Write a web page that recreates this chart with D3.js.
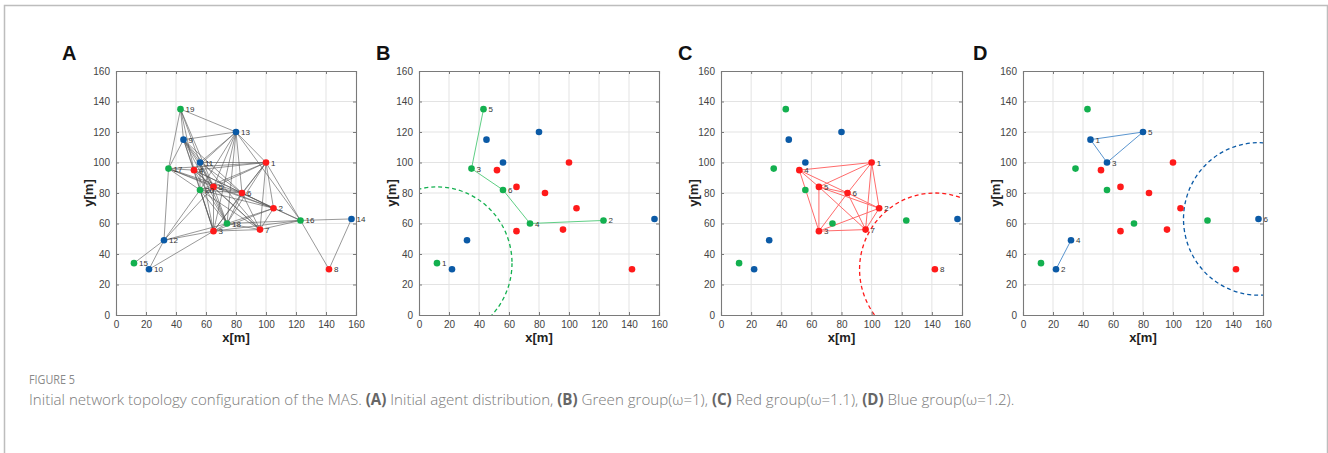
<!DOCTYPE html>
<html><head><meta charset="utf-8">
<script src="https://cdn.jsdelivr.net/npm/d3@7"></script>
<style>
body{margin:0;background:#fff;}
svg{display:block;}
</style></head>
<body>
<svg id="chart" width="1328" height="453"></svg>
<script>
// ---- data ----
const agentX = [100,105,65,52,65,84,96,142, 45,22,56,32,80,157, 12,123,35,74,43,56];
const agentY = [100,70,55,95,84,80,56,30, 115,30,100,49,120,63, 34,62,96,60,135,82];
const agentGroup = ["red","red","red","red","red","red","red","red",
  "blue","blue","blue","blue","blue","blue",
  "green","green","green","green","green","green"];
// full initial topology edges (agent numbers, panel A)
const edgesA = [
 [19,13],[19,9],[19,17],[19,11],[19,4],[19,5],
 [13,9],[13,11],[13,1],[13,16],[13,6],[13,4],[13,20],[13,5],[13,18],[13,3],
 [9,11],[9,4],[9,5],[9,3],[9,18],[9,6],[9,7],[9,17],
 [11,1],[11,4],[11,20],[11,5],[11,3],[11,18],[11,6],
 [1,17],[1,4],[1,20],[1,5],[1,6],[1,2],[1,7],[1,18],[1,3],[1,16],
 [17,12],[17,4],[17,5],[17,6],[17,20],[17,2],
 [20,12],[20,5],[20,6],[20,3],[20,18],[20,7],[20,2],
 [4,5],[4,6],[4,3],[4,18],[4,7],[4,2],
 [5,6],[5,3],[5,18],[5,7],[5,2],[5,12],
 [6,3],[6,18],[6,7],[6,2],[6,16],
 [12,15],[12,10],[12,3],[12,18],
 [10,3],
 [3,7],[3,18],[3,2],[3,16],
 [18,16],[18,2],[18,7],
 [2,16],[2,7],[7,16],
 [16,14],[16,8],[14,8]
];
// group sub-networks (local numbering inside each group)
const greenMembers = [15,16,17,18,19,20];
const greenEdges = [[5,3],[3,6],[6,4],[4,2]];
const greenIsolated = 1;
const redMembers = [1,2,3,4,5,6,7,8];
const redEdges = [[1,4],[1,5],[1,6],[1,2],[1,7],[4,5],[4,6],[4,3],[5,6],[5,3],[5,2],[5,7],
  [6,3],[6,2],[6,7],[3,7],[3,2],[2,7]];
const redIsolated = 8;
const blueMembers = [9,10,11,12,13,14];
const blueEdges = [[1,5],[1,3],[3,5],[2,4]];
const blueIsolated = 6;
const rangeRadius = [50];
const xTicks = [0,20,40,60,80,100,120,140,160];
const yTicks = [0,20,40,60,80,100,120,140,160];
const panelLetters = ["A","B","C","D"];
const captionTitle = "FIGURE 5";

// ---- styles ----
const colors = {red:"#ff1a1a", blue:"#0b5aa6", green:"#13b04f"};
const lightColors = {red:"#ff6b6b", blue:"#5a95cf", green:"#5fcf85"};
const svg = d3.select("#chart");
const FONT = "Arial, 'Liberation Sans', sans-serif";

// outer frame
svg.append("path").attr("d","M4.5,460 V5.5 H1327.5 V460")
  .attr("fill","none").attr("stroke","#bdbdbd").attr("stroke-width",1.5);

const panels = [
  {left:116, right:356, letterX:62},
  {left:419, right:659, letterX:376},
  {left:721, right:962, letterX:678},
  {left:1023, right:1263, letterX:973}
];
const plotTop = 71, plotBottom = 315;

function drawGrid(g, x, y, p){
  g.append("g").selectAll("line").data(xTicks.slice(1,-1)).join("line")
    .attr("x1",d=>x(d)).attr("x2",d=>x(d)).attr("y1",plotTop).attr("y2",plotBottom)
    .attr("stroke","#e3e3e3").attr("stroke-width",1);
  g.append("g").selectAll("line").data(yTicks.slice(1,-1)).join("line")
    .attr("y1",d=>y(d)).attr("y2",d=>y(d)).attr("x1",p.left).attr("x2",p.right)
    .attr("stroke","#e3e3e3").attr("stroke-width",1);
}
function drawFrame(g, x, y, p){
  const ax = d3.axisBottom(x).tickValues(xTicks).tickSize(-3).tickPadding(6);
  const gx = g.append("g").attr("transform",`translate(0,${plotBottom})`).call(ax);
  const ay = d3.axisLeft(y).tickValues(yTicks).tickSize(-3).tickPadding(6);
  const gy = g.append("g").attr("transform",`translate(${p.left},0)`).call(ay);
  const at = d3.axisTop(x).tickValues(xTicks).tickSize(-3).tickFormat("");
  const gt = g.append("g").attr("transform",`translate(0,${plotTop})`).call(at);
  const ar = d3.axisRight(y).tickValues(yTicks).tickSize(-3).tickFormat("");
  const gr = g.append("g").attr("transform",`translate(${p.right},0)`).call(ar);
  [gx,gy,gt,gr].forEach(a=>{
    a.select(".domain").attr("stroke","#7a7a7a").attr("stroke-width",1.1);
    a.selectAll(".tick line").attr("stroke","#7a7a7a");
    a.selectAll("text").attr("font-family",FONT).attr("font-size",10).attr("fill","#444");
  });
  g.append("text").attr("x",(p.left+p.right)/2).attr("y",342)
    .attr("text-anchor","middle").attr("font-family",FONT).attr("font-weight","bold")
    .attr("font-size",13).attr("fill","#222").text("x[m]");
  g.append("text").attr("transform",`translate(${p.left-23},${(plotTop+plotBottom)/2}) rotate(-90)`)
    .attr("text-anchor","middle").attr("font-family",FONT).attr("font-weight","bold")
    .attr("font-size",13).attr("fill","#222").text("y[m]");
}

panels.forEach((p,i)=>{
  const g = svg.append("g");
  const x = d3.scaleLinear().domain([0,160]).range([p.left,p.right]);
  const y = d3.scaleLinear().domain([0,160]).range([plotBottom,plotTop]);
  const clipId = "clip"+i;
  svg.append("clipPath").attr("id",clipId).append("rect")
    .attr("x",p.left).attr("y",plotTop).attr("width",p.right-p.left).attr("height",plotBottom-plotTop);
  g.append("text").attr("x",p.letterX).attr("y",60).attr("font-family",FONT)
    .attr("font-weight","bold").attr("font-size",20).attr("fill","#111").text(panelLetters[i]);
  drawGrid(g,x,y,p);
  const idx = d3.range(agentX.length);
  const pt = k => [x(agentX[k-1]), y(agentY[k-1])];

  if(i===0){
    g.append("g").selectAll("line").data(edgesA).join("line")
      .attr("x1",d=>pt(d[0])[0]).attr("y1",d=>pt(d[0])[1])
      .attr("x2",d=>pt(d[1])[0]).attr("y2",d=>pt(d[1])[1])
      .attr("stroke","#555").attr("stroke-width",0.75).attr("stroke-opacity",0.8);
    g.append("g").selectAll("circle").data(idx).join("circle")
      .attr("cx",k=>x(agentX[k])).attr("cy",k=>y(agentY[k])).attr("r",3.3)
      .attr("fill",k=>colors[agentGroup[k]]);
    g.append("g").selectAll("text").data(idx).join("text")
      .attr("x",k=>x(agentX[k])+5).attr("y",k=>y(agentY[k])+3)
      .attr("font-family",FONT).attr("font-size",8).attr("fill","#333")
      .text(k=>k+1);
  } else {
    const grp = ["green","red","blue"][i-1];
    const members = [greenMembers,redMembers,blueMembers][i-1];
    const edges = [greenEdges,redEdges,blueEdges][i-1];
    const iso = [greenIsolated,redIsolated,blueIsolated][i-1];
    const mp = l => pt(members[l-1]);
    const c = mp(iso);
    g.append("ellipse").attr("clip-path",`url(#${clipId})`)
      .attr("cx",c[0]).attr("cy",c[1])
      .attr("rx",x(rangeRadius[0])-x(0)).attr("ry",y(0)-y(rangeRadius[0]))
      .attr("fill","none").attr("stroke",colors[grp]).attr("stroke-width",1.3)
      .attr("stroke-dasharray","4,3");
    g.append("g").selectAll("line").data(edges).join("line")
      .attr("x1",d=>mp(d[0])[0]).attr("y1",d=>mp(d[0])[1])
      .attr("x2",d=>mp(d[1])[0]).attr("y2",d=>mp(d[1])[1])
      .attr("stroke",lightColors[grp]).attr("stroke-width",1);
    g.append("g").selectAll("circle").data(idx).join("circle")
      .attr("cx",k=>x(agentX[k])).attr("cy",k=>y(agentY[k])).attr("r",3.3)
      .attr("fill",k=>colors[agentGroup[k]]);
    g.append("g").selectAll("text").data(members).join("text")
      .attr("x",m=>pt(m)[0]+5).attr("y",m=>pt(m)[1]+3)
      .attr("font-family",FONT).attr("font-size",8).attr("fill","#333")
      .text((m,j)=>j+1);
  }
  drawFrame(g,x,y,p);
});

// caption
const CF = "'Open Sans', 'Noto Sans', sans-serif";
svg.append("text").attr("x",29).attr("y",384).attr("font-family",CF)
  .attr("font-size",13).attr("fill","#8a8a8a")
  .attr("textLength",46).attr("lengthAdjust","spacingAndGlyphs").text(captionTitle);
const cap = svg.append("text").attr("x",29).attr("y",405).attr("font-family",CF)
  .attr("font-size",15.1).attr("font-weight",300).attr("fill","#7a7a7a");
const parts = [
 ["Initial network topology configuration of the MAS. ",false],["(A)",true],[" Initial agent distribution, ",false],
 ["(B)",true],[" Green group(ω=1), ",false],["(C)",true],[" Red group(ω=1.1), ",false],["(D)",true],[" Blue group(ω=1.2).",false]
];
parts.forEach(([t,b])=>{
  cap.append("tspan").attr("font-weight",b?"bold":300).attr("fill",b?"#666":"#7a7a7a").text(t);
});
</script>
</body></html>
